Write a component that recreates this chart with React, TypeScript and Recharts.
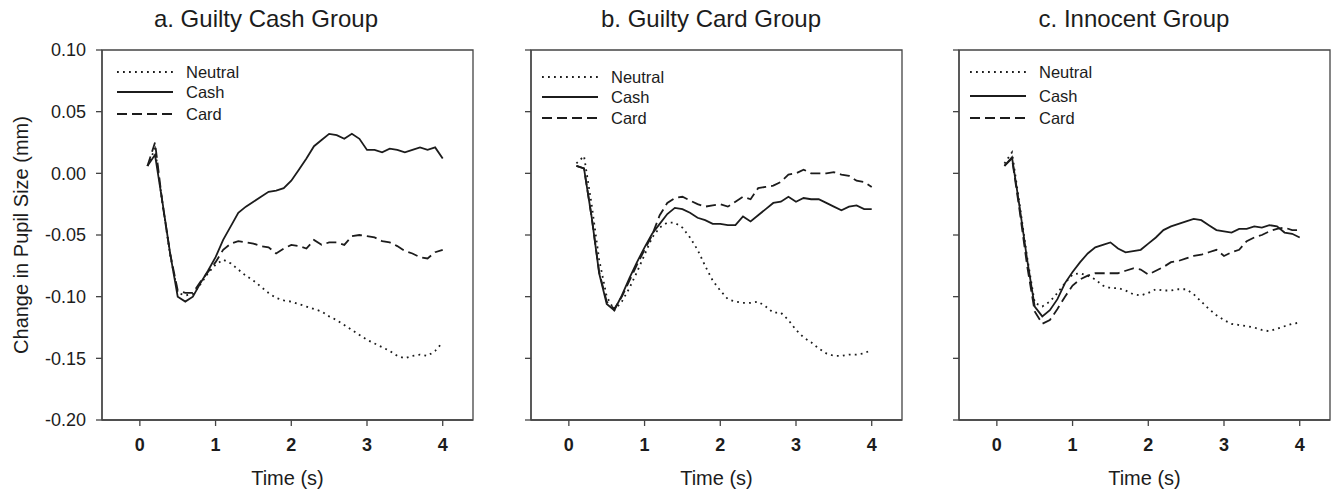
import { LineChart, Line, XAxis, YAxis, ReferenceArea, Legend } from "recharts";

// time in seconds, one sample per 0.1 s
const TIME = [
  0.1, 0.2, 0.3, 0.4, 0.5, 0.6, 0.7, 0.8, 0.9, 1.0,
  1.1, 1.2, 1.3, 1.4, 1.5, 1.6, 1.7, 1.8, 1.9, 2.0,
  2.1, 2.2, 2.3, 2.4, 2.5, 2.6, 2.7, 2.8, 2.9, 3.0,
  3.1, 3.2, 3.3, 3.4, 3.5, 3.6, 3.7, 3.8, 3.9, 4.0,
];

const X_TICKS = [0, 1, 2, 3, 4];
const Y_TICKS = [-0.2, -0.15, -0.1, -0.05, 0, 0.05, 0.1];

// a. Guilty Cash Group
const neutralA = [
  0.006, 0.02, -0.025, -0.066, -0.097, -0.099, -0.098, -0.09, -0.081, -0.074,
  -0.07, -0.073, -0.078, -0.083, -0.087, -0.092, -0.097, -0.101, -0.103, -0.104,
  -0.106, -0.108, -0.11, -0.112, -0.116, -0.119, -0.123, -0.127, -0.131, -0.135,
  -0.138, -0.141, -0.144, -0.148, -0.15, -0.148, -0.147, -0.148, -0.144, -0.137,
];
const cashA = [
  0.006, 0.015, -0.024, -0.065, -0.1, -0.104, -0.1, -0.089, -0.079, -0.068,
  -0.054, -0.043, -0.032, -0.027, -0.023, -0.019, -0.015, -0.014, -0.012, -0.006,
  0.003, 0.012, 0.022, 0.027, 0.032, 0.031, 0.028, 0.032, 0.028, 0.019,
  0.019, 0.017, 0.02, 0.019, 0.017, 0.019, 0.021, 0.019, 0.021, 0.012,
];
const cardA = [
  0.006, 0.025, -0.025, -0.065, -0.095, -0.097, -0.097, -0.088, -0.08, -0.072,
  -0.062, -0.057, -0.055, -0.056, -0.057, -0.059, -0.06, -0.065, -0.061, -0.058,
  -0.059, -0.061, -0.054, -0.058, -0.056, -0.056, -0.058, -0.051, -0.05, -0.051,
  -0.052, -0.055, -0.056, -0.059, -0.063, -0.065, -0.068, -0.069, -0.064, -0.062,
];

// b. Guilty Card Group
const neutralB = [
  0.008, 0.014, -0.025, -0.07, -0.1, -0.111, -0.104, -0.093, -0.08, -0.066,
  -0.052, -0.044, -0.04, -0.04, -0.044, -0.052, -0.062, -0.075, -0.087, -0.095,
  -0.102, -0.104, -0.105, -0.105, -0.104, -0.108, -0.113, -0.113, -0.119, -0.127,
  -0.133, -0.137, -0.142, -0.146, -0.148, -0.148, -0.147, -0.147, -0.146, -0.143,
];
const cashB = [
  0.006, 0.004, -0.035, -0.081, -0.106, -0.111, -0.099, -0.085, -0.072, -0.06,
  -0.049, -0.041, -0.033, -0.028, -0.029, -0.032, -0.036, -0.038, -0.041, -0.041,
  -0.042, -0.042, -0.035, -0.039, -0.034, -0.029, -0.024, -0.023, -0.019, -0.023,
  -0.02, -0.021, -0.021, -0.024, -0.027, -0.03, -0.027, -0.026, -0.029, -0.029,
];
const cardB = [
  0.006, 0.004, -0.035, -0.08, -0.104, -0.11, -0.1, -0.087, -0.074, -0.062,
  -0.05, -0.034, -0.024, -0.02, -0.019, -0.022, -0.025, -0.027, -0.026, -0.025,
  -0.027, -0.023, -0.019, -0.021, -0.012, -0.011, -0.01, -0.007, -0.001, 0.0,
  0.003, 0.0, 0.0, 0.0, 0.001, -0.001, -0.002, -0.006, -0.007, -0.011,
];

// c. Innocent Group
const neutralC = [
  0.008, 0.017, -0.025, -0.068, -0.105, -0.108, -0.104, -0.097, -0.089, -0.082,
  -0.081, -0.083, -0.086, -0.091, -0.093, -0.093, -0.095, -0.098, -0.099, -0.097,
  -0.094, -0.095, -0.095, -0.094, -0.094, -0.098, -0.104, -0.11, -0.115, -0.119,
  -0.122, -0.123, -0.124, -0.125, -0.127, -0.128, -0.126, -0.124, -0.122, -0.121,
];
const cashC = [
  0.006, 0.013, -0.027, -0.07, -0.108, -0.116, -0.111, -0.102, -0.089, -0.08,
  -0.072, -0.065, -0.06, -0.058, -0.056, -0.061, -0.064, -0.063, -0.062, -0.057,
  -0.052, -0.046, -0.043, -0.041, -0.039, -0.037, -0.038, -0.042, -0.046, -0.047,
  -0.048, -0.045, -0.045, -0.043, -0.044, -0.042, -0.043, -0.048, -0.049, -0.052,
];
const cardC = [
  0.006, 0.012, -0.03, -0.075, -0.112, -0.122, -0.119, -0.11, -0.1, -0.091,
  -0.086, -0.083, -0.081, -0.081, -0.081, -0.081, -0.079, -0.077, -0.078, -0.082,
  -0.079, -0.076, -0.072, -0.071, -0.069, -0.067, -0.066, -0.064, -0.062, -0.067,
  -0.064, -0.062, -0.055, -0.052, -0.05, -0.047, -0.045, -0.044, -0.046, -0.046,
];

const FONT = "'Liberation Sans', Arial, Helvetica, sans-serif";
const INK = "#1c1c1c";
const AXIS = "#444";
const DOTTED = "1.8 4.2";
const DASHED = "10 5";

const PLOT_LEFT = 102;
const PLOT_W = 371;
const CHART_W = PLOT_LEFT + PLOT_W + 2;
const CHART_H = 490;

const toRows = (neutral: number[], cash: number[], card: number[]) =>
  TIME.map((t, i) => ({ t, neutral: neutral[i], cash: cash[i], card: card[i] }));

const SERIES = [
  { key: "neutral", name: "Neutral", dash: DOTTED },
  { key: "cash", name: "Cash", dash: undefined },
  { key: "card", name: "Card", dash: DASHED },
];

const makeLegend = (rowsY: number[]) => () => (
  <svg width={170} height={80} style={{ display: "block" }}>
    {SERIES.map((s, i) => (
      <g key={s.key}>
        <line
          x1={3}
          x2={59}
          y1={rowsY[i]}
          y2={rowsY[i]}
          stroke={INK}
          strokeWidth={1.8}
          strokeDasharray={s.dash}
        />
        <text
          x={72}
          y={rowsY[i]}
          dominantBaseline="central"
          fontFamily={FONT}
          fontSize={16.5}
          fill={INK}
        >
          {s.name}
        </text>
      </g>
    ))}
  </svg>
);

// eslint-disable-next-line @typescript-eslint/no-explicit-any
const XLabel = ({ viewBox }: any) => (
  <text
    x={viewBox.x + viewBox.width / 2}
    y={viewBox.y + 65}
    textAnchor="middle"
    fontFamily={FONT}
    fontSize={20}
    fill={INK}
  >
    Time (s)
  </text>
);

// eslint-disable-next-line @typescript-eslint/no-explicit-any
const YLabel = ({ viewBox }: any) => {
  const cx = 28;
  const cy = viewBox.y + viewBox.height / 2;
  return (
    <text
      x={cx}
      y={cy}
      transform={`rotate(-90, ${cx}, ${cy})`}
      textAnchor="middle"
      fontFamily={FONT}
      fontSize={20}
      fill={INK}
    >
      Change in Pupil Size (mm)
    </text>
  );
};

interface PanelProps {
  left: number;
  title: string;
  titleX: number;
  data: { t: number; neutral: number; cash: number; card: number }[];
  first?: boolean;
  legendLeft: number;
  legendTop: number;
  legendRows: number[];
}

const Panel = ({ left, title, titleX, data, first, legendLeft, legendTop, legendRows }: PanelProps) => (
  <>
    <div
      style={{
        position: "absolute",
        left: titleX - 200,
        width: 400,
        top: 4,
        textAlign: "center",
        fontFamily: FONT,
        fontSize: 24,
        lineHeight: "30px",
        color: INK,
      }}
    >
      {title}
    </div>
    <div style={{ position: "absolute", left, top: 0 }}>
      <LineChart
        width={CHART_W}
        height={CHART_H}
        data={data}
        margin={{ top: 50, right: 2, bottom: 0, left: 0 }}
      >
        <XAxis
          dataKey="t"
          type="number"
          domain={[-0.5, 4.4]}
          ticks={X_TICKS}
          allowDataOverflow
          height={70}
          tickSize={6}
          tickMargin={12}
          tick={{ fontSize: 18, fontWeight: "bold", fill: INK, fontFamily: FONT }}
          axisLine={{ stroke: AXIS, strokeWidth: 1.3 }}
          tickLine={{ stroke: AXIS, strokeWidth: 1.3 }}
          label={<XLabel />}
        />
        <YAxis
          type="number"
          domain={[-0.2, 0.1]}
          ticks={Y_TICKS}
          allowDataOverflow
          width={PLOT_LEFT}
          tickSize={6}
          tickMargin={10}
          tickFormatter={(v: number) => v.toFixed(2)}
          tick={first ? { fontSize: 18, fill: INK, fontFamily: FONT } : () => <g />}
          axisLine={{ stroke: AXIS, strokeWidth: 1.3 }}
          tickLine={{ stroke: AXIS, strokeWidth: 1.3 }}
          label={first ? <YLabel /> : undefined}
        />
        <ReferenceArea
          x1={-0.5}
          x2={4.4}
          y1={-0.2}
          y2={0.1}
          fill="none"
          stroke={AXIS}
          strokeWidth={1.3}
          ifOverflow="visible"
        />
        <Legend
          layout="vertical"
          align="center"
          verticalAlign="middle"
          content={makeLegend(legendRows)}
          wrapperStyle={{ left: legendLeft, top: legendTop, width: 170, height: 80 }}
        />
        {SERIES.map((s) => (
          <Line
            key={s.key}
            dataKey={s.key}
            name={s.name}
            type="linear"
            stroke={INK}
            strokeWidth={1.8}
            strokeDasharray={s.dash}
            dot={false}
            activeDot={false}
            isAnimationActive={false}
          />
        ))}
      </LineChart>
    </div>
  </>
);

export default function App() {
  return (
    <div
      style={{
        position: "absolute",
        left: 0,
        top: 0,
        width: 1331,
        height: 490,
        overflow: "hidden",
        background: "#fff",
      }}
    >
      <Panel
        left={0}
        title="a. Guilty Cash Group"
        titleX={266}
        data={toRows(neutralA, cashA, cardA)}
        first
        legendLeft={114}
        legendTop={60}
        legendRows={[12, 32, 54]}
      />
      <Panel
        left={429}
        title="b. Guilty Card Group"
        titleX={711}
        data={toRows(neutralB, cashB, cardB)}
        legendLeft={110}
        legendTop={60}
        legendRows={[17, 37, 58]}
      />
      <Panel
        left={857}
        title="c. Innocent Group"
        titleX={1134}
        data={toRows(neutralC, cashC, cardC)}
        legendLeft={110}
        legendTop={60}
        legendRows={[12, 36, 58]}
      />
    </div>
  );
}
